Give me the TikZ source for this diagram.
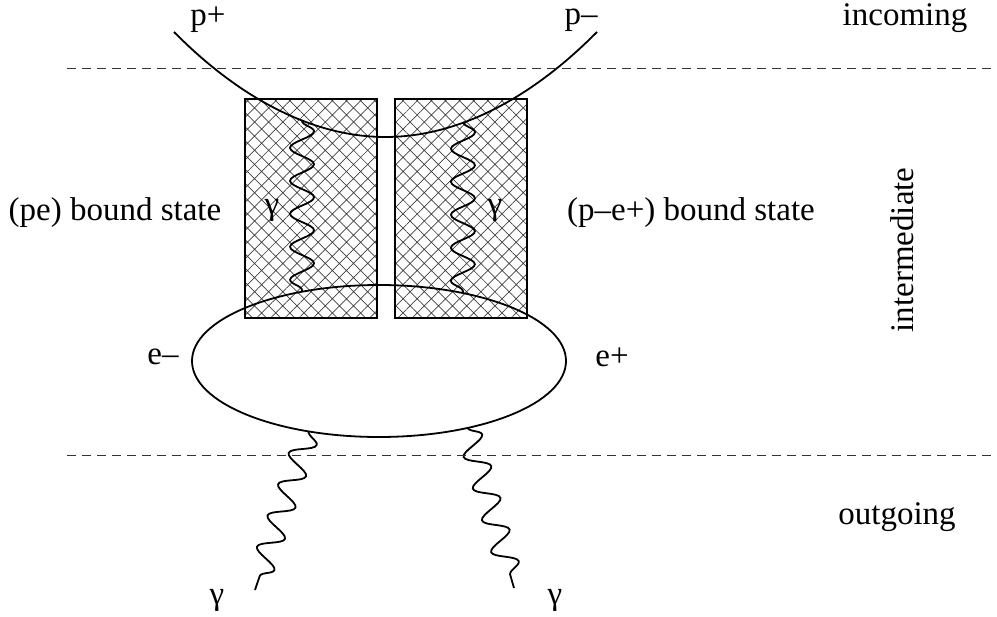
\documentclass[tikz,border=0pt]{standalone}
\usepackage{fontspec}
\setmainfont{Liberation Serif}
\usetikzlibrary{decorations.pathmorphing,patterns.meta,shapes.geometric}

\begin{document}
\begin{tikzpicture}[x=1pt, y=-1pt, line width=1.8pt,
  every node/.style={font=\fontsize{33}{38}\selectfont},
  stage/.style={dash pattern=on 9pt off 6pt, line width=0.9pt, black!80},
  boundbox/.style={draw, pattern={Hatch[angle=45,distance=10pt,line width=0.7pt]},
    pattern color=black!75, minimum width=132pt, minimum height=219pt,
    inner sep=0pt, outer sep=0pt},
  photon/.style={decorate, decoration={snake, amplitude=12pt, segment length=33pt}}]
  \useasboundingbox (0,0) rectangle (997,617);

  % bound states
  \node[boundbox] (lbox) at (311,208.5) {};
  \node[boundbox] (rbox) at (461,208.5) {};

  % proton line and e+e- loop
  \draw (174,32) parabola bend (385.5,137) (597,32);
  \node[draw, ellipse, minimum width=374pt, minimum height=152pt,
    inner sep=0pt, outer sep=0pt] (pair) at (379,361) {};

  % photons
  \coordinate (ltop) at (302,121);
  \coordinate (rtop) at (463,122);
  \coordinate (lend) at (255,590);
  \coordinate (rend) at (514,588);
  \draw[photon] (ltop) -- (pair.138);
  \draw[photon] (rtop) -- (pair.39);
  \draw[photon] (pair.225) -- (lend);
  \draw[photon] (pair.323) -- (rend);

  % stages
  \draw[stage] (67,68) -- (997,68);
  \draw[stage] (67,455) -- (997,455);
  \node (incoming) at (905,18) {incoming};
  \node[rotate=90] (intermediate) at (902,250) {intermediate};
  \node (outgoing) at (897,517) {outgoing};

  % labels
  \node[inner sep=1pt] (pplus) at (208,20) {p+};
  \node[inner sep=1pt] (pminus) at (581,20) {p–};
  \node (lstate) at (115,213) {(pe) bound state};
  \node (rstate) at (691,213) {(p–e+) bound state};
  \node (eminus) at (163,357) {e–};
  \node (eplus) at (612,357) {e+};
  \node (lgamma) at (272,210) {γ};
  \node (rgamma) at (495,210) {γ};
  \node (lout) at (217,600) {γ};
  \node (rout) at (555,600) {γ};
\end{tikzpicture}
\end{document}
